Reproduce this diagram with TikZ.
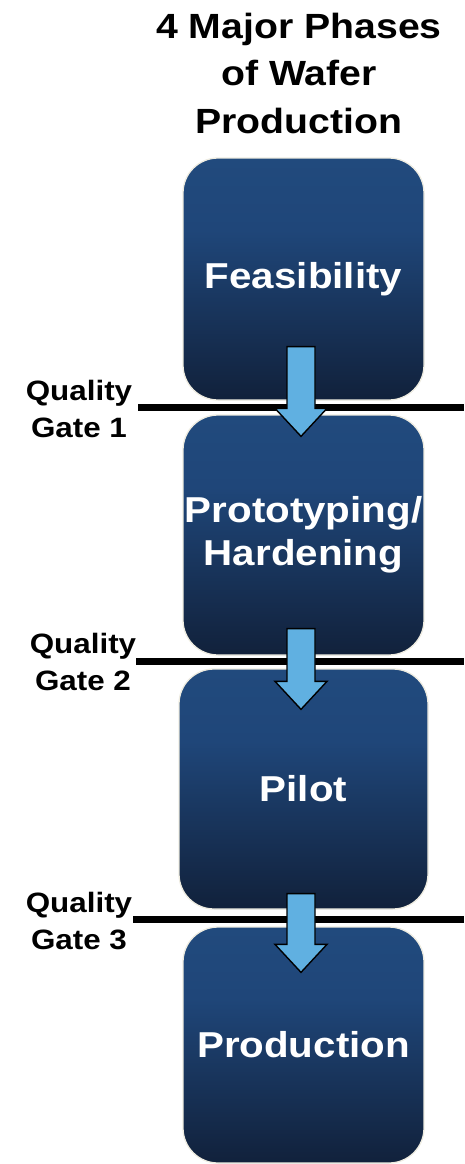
\documentclass[tikz,border=0pt]{standalone}
\usepackage{fontspec}
\usetikzlibrary{calc}
\newfontfamily\phasefont{Liberation Sans}[FakeStretch=1.12]

\definecolor{phasetop}{HTML}{214A7D}
\definecolor{phasemid}{HTML}{1F4679}
\definecolor{phasebot}{HTML}{11213B}
\definecolor{phaserim}{HTML}{EEECE1}
\definecolor{arrowfill}{HTML}{60B0E1}

% vertical shading: the path spans 25bp (bottom) .. 75bp (top)
\pgfdeclareverticalshading{phaseshade}{100bp}{%
  color(0bp)=(phasebot); color(25bp)=(phasebot);
  color(60bp)=(phasemid); color(75bp)=(phasetop); color(100bp)=(phasetop)}

% block arrow from the top of its shaft (#1) down to its tip (#2)
\newcommand{\gatearrow}[2]{%
  \draw[gatearrowstyle] let \p1=(#1), \p2=(#2) in
    (\x1-14pt,\y1) -- (\x1+14pt,\y1) -- (\x1+14pt,\y2+28pt)
    -- (\x1+26pt,\y2+28pt) -- (\x2,\y2) -- (\x1-26pt,\y2+28pt)
    -- (\x1-14pt,\y2+28pt) -- cycle;}

\begin{document}
\begin{tikzpicture}[x=1pt,y=-1pt,
  phasebox/.style={draw=phaserim, line width=1.3pt, shading=phaseshade,
    rounded corners=35pt, inner sep=0pt, text=white,
    font=\phasefont\bfseries\fontsize{36}{43}\selectfont, align=center},
  gatelabel/.style={anchor=base, inner sep=0pt, align=center,
    font=\phasefont\bfseries\fontsize{28}{37}\selectfont},
  gateline/.style={line width=7pt, black},
  gatearrowstyle/.style={draw=black, line width=1.4pt, fill=arrowfill, line join=miter}]
\useasboundingbox (0,0) rectangle (464,1164);

% title (anchored at the baseline of its last line)
\node[anchor=base, inner sep=0pt, align=center,
  font=\phasefont\bfseries\fontsize{35}{47.5}\selectfont] (title) at (299,133)
  {4 Major Phases\\of Wafer\\Production};

% quality gate labels (anchored at the baseline of the second line)
\node[gatelabel] (q1) at (79,437) {Quality\\Gate 1};
\node[gatelabel] (q2) at (83,690) {Quality\\Gate 2};
\node[gatelabel] (q3) at (79,949) {Quality\\Gate 3};

% gate lines
\coordinate (g1a) at (138,407.5); \coordinate (g1b) at (464,407.5);
\coordinate (g2a) at (136,661);   \coordinate (g2b) at (464,661);
\coordinate (g3a) at (133,919);   \coordinate (g3b) at (464,919);
\draw[gateline] (g1a) -- (g1b);
\draw[gateline] (g2a) -- (g2b);
\draw[gateline] (g3a) -- (g3b);

% phases
\node[phasebox, minimum width=241pt, minimum height=242pt] (b1) at (303.5,279) {Feasibility};
\node[phasebox, minimum width=241pt, minimum height=240pt] (b2) at (303.5,535) {Prototyping/\\Hardening};
\node[phasebox, minimum width=249pt, minimum height=240pt] (b3) at (303.5,789) {Pilot};
\node[phasebox, minimum width=241pt, minimum height=236pt] (b4) at (303.5,1045) {Production};

% arrows between phases
\coordinate (a1s) at ($(b1.south)+(-2.5,-54)$);
\coordinate (a1t) at ($(b2.north)+(-2.5,22)$);
\coordinate (a2s) at ($(b2.south)+(-2.5,-27)$);
\coordinate (a2t) at ($(b3.north)+(-2.5,41)$);
\coordinate (a3s) at ($(b3.south)+(-2.5,-16)$);
\coordinate (a3t) at ($(b4.north)+(-2.5,46)$);
\gatearrow{a1s}{a1t}
\gatearrow{a2s}{a2t}
\gatearrow{a3s}{a3t}
\end{tikzpicture}
\end{document}
